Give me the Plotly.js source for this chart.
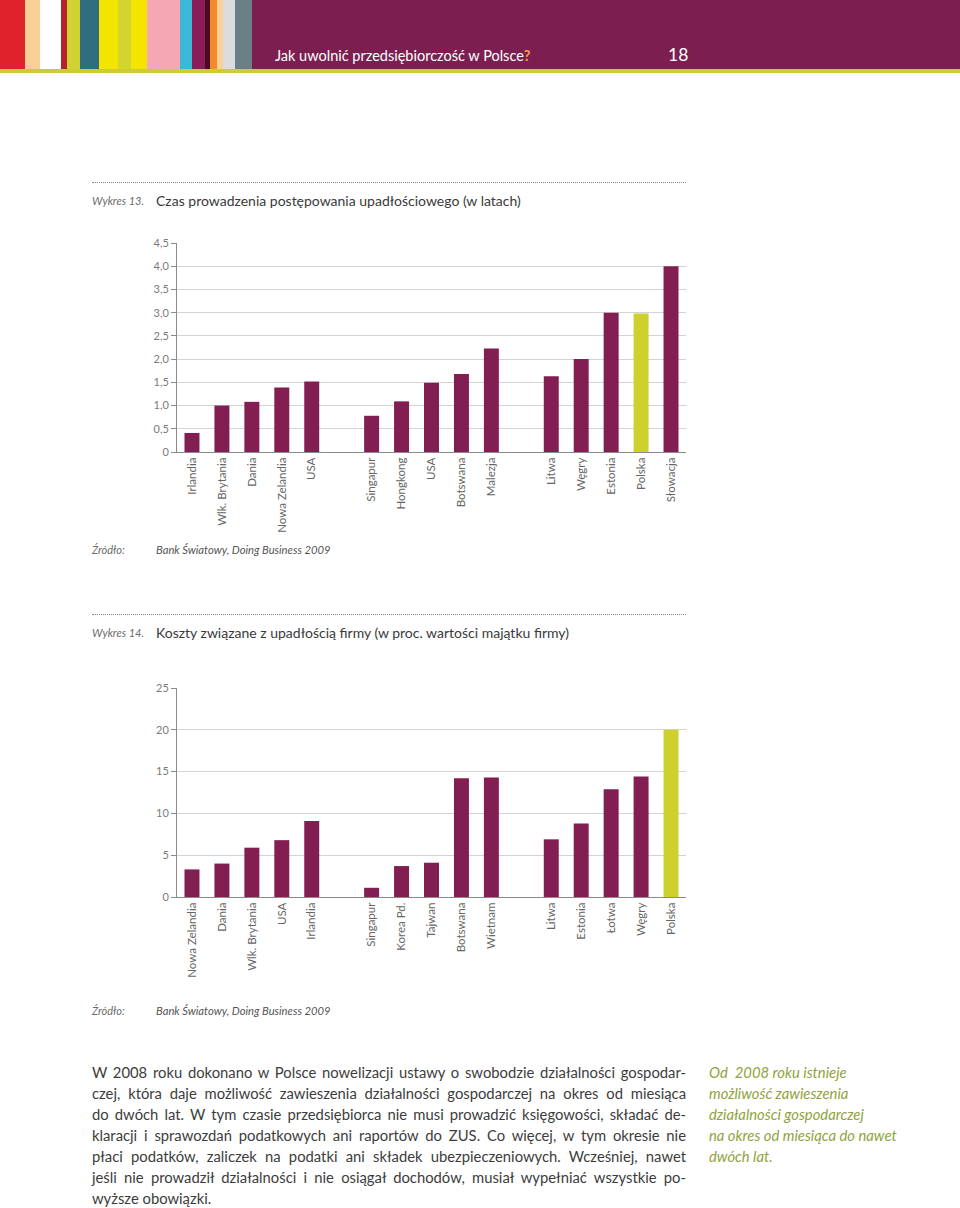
<!DOCTYPE html>
<html><head><meta charset="utf-8">
<script src="https://cdn.plot.ly/plotly-3.0.1.min.js"></script>
<style>
html,body{margin:0;padding:0}
body{width:960px;height:1208px;position:relative;background:#fff;font-family:Lato,'Open Sans',sans-serif;overflow:hidden;color:#3a3a3a}
.a{position:absolute;white-space:nowrap}
.hdr{left:0;top:0;width:960px;height:69px;background:#7c1f50}
.bar{left:0;top:69px;width:960px;height:4px;background:#cbcd33}
.st{top:0;height:69px;position:absolute}
.dot{left:92px;width:594px;height:0;border-top:1px dotted #888}
.wyk{left:92px;font-style:italic;font-size:11px;color:#6b6b6b;line-height:20px}
.ttl{left:156px;font-size:14px;color:#3a3a3a;line-height:20px}
.src{left:156px;font-style:italic;font-size:11.2px;color:#555;line-height:20px}
.par{left:92px;width:594px;font-size:14.8px;line-height:21px;color:#3c3c3c}
.par div{text-align:justify;text-align-last:justify;white-space:nowrap}
.par div.last{text-align-last:left}
.side{left:709px;font-style:italic;font-size:14.8px;line-height:21px;color:#8fa33c}
</style></head><body>
<div class="a hdr"></div>
<div class="st" style="left:0;width:25px;background:#e0232b"></div>
<div class="st" style="left:25px;width:15px;background:#f8cf94"></div>
<div class="st" style="left:40px;width:21px;background:#ffffff"></div>
<div class="st" style="left:61px;width:6px;background:#b5222a"></div>
<div class="st" style="left:67px;width:13px;background:#cfd232"></div>
<div class="st" style="left:80px;width:19px;background:#2f6d7f"></div>
<div class="st" style="left:99px;width:19px;background:#f4e500"></div>
<div class="st" style="left:118px;width:13px;background:#d4d431"></div>
<div class="st" style="left:131px;width:16px;background:#f4e500"></div>
<div class="st" style="left:147px;width:33px;background:#f5a7b3"></div>
<div class="st" style="left:180px;width:12px;background:#3bb8d8"></div>
<div class="st" style="left:192px;width:13px;background:#8a1c57"></div>
<div class="st" style="left:205px;width:5px;background:#4a0a22"></div>
<div class="st" style="left:210px;width:7px;background:#f58a2a"></div>
<div class="st" style="left:217px;width:6px;background:#f8d29a"></div>
<div class="st" style="left:223px;width:12px;background:#dcdcdc"></div>
<div class="st" style="left:235px;width:17px;background:#6b7f86"></div>
<div class="a bar"></div>
<div class="a" style="left:275px;top:45px;font-size:14.5px;line-height:22px;color:#fff">Jak uwolnić przedsiębiorczość w Polsce<span style="color:#f3a23a;font-weight:bold">?</span></div>
<div class="a" style="left:668px;top:43px;font-size:17.5px;line-height:24px;color:#fff">18</div>

<div class="a dot" style="top:182px"></div>
<div class="a wyk" style="top:191px">Wykres 13.</div>
<div class="a ttl" style="top:191px">Czas prowadzenia postępowania upadłościowego (w latach)</div>
<div id="c1" class="a" style="left:0;top:225px;width:960px;height:310px"></div>
<div class="a wyk" style="top:540px">Źródło:</div>
<div class="a src" style="top:540px">Bank Światowy, Doing Business 2009</div>

<div class="a dot" style="top:614px"></div>
<div class="a wyk" style="top:623px">Wykres 14.</div>
<div class="a ttl" style="top:623px">Koszty związane z upadłością firmy (w proc. wartości majątku firmy)</div>
<div id="c2" class="a" style="left:0;top:670px;width:960px;height:310px"></div>
<div class="a wyk" style="top:1001px">Źródło:</div>
<div class="a src" style="top:1001px">Bank Światowy, Doing Business 2009</div>

<div class="a par" style="top:1062px">
<div>W 2008 roku dokonano w Polsce nowelizacji ustawy o swobodzie działalności gospodar-</div>
<div>czej, która daje możliwość zawieszenia działalności gospodarczej na okres od miesiąca</div>
<div>do dwóch lat. W tym czasie przedsiębiorca nie musi prowadzić księgowości, składać de-</div>
<div>klaracji i sprawozdań podatkowych ani raportów do ZUS. Co więcej, w tym okresie nie</div>
<div>płaci podatków, zaliczek na podatki ani składek ubezpieczeniowych. Wcześniej, nawet</div>
<div>jeśli nie prowadził działalności i nie osiągał dochodów, musiał wypełniać wszystkie po-</div>
<div class="last">wyższe obowiązki.</div>
</div>
<div class="a side" style="top:1062px">Od&nbsp; 2008 roku istnieje<br>możliwość zawieszenia<br>działalności gospodarczej<br>na okres od miesiąca do nawet<br>dwóch lat.</div>

<script>
// Wykres 13 – czas postępowania upadłościowego (lata)
const c1Labels = ['Irlandia','Wlk. Brytania','Dania','Nowa Zelandia','USA',
                  'Singapur','Hongkong','USA','Botswana','Malezja',
                  'Litwa','Węgry','Estonia','Polska','Słowacja'];
const c1Values = [0.41,1.0,1.08,1.39,1.52,
                  0.78,1.09,1.49,1.68,2.23,
                  1.63,2.0,3.0,2.98,4.0];
const c1TickVals = [0,0.5,1,1.5,2,2.5,3,3.5,4,4.5];
const c1TickText = ['0','0,5','1,0','1,5','2,0','2,5','3,0','3,5','4,0','4,5'];

// Wykres 14 – koszty upadłości (% wartości majątku)
const c2Labels = ['Nowa Zelandia','Dania','Wlk. Brytania','USA','Irlandia',
                  'Singapur','Korea Pd.','Tajwan','Botswana','Wietnam',
                  'Litwa','Estonia','Łotwa','Węgry','Polska'];
const c2Values = [3.3,4.0,5.9,6.8,9.1,
                  1.1,3.7,4.1,14.2,14.3,
                  6.9,8.8,12.9,14.4,20.0];
const c2TickVals = [0,5,10,15,20,25];
const c2TickText = ['0','5','10','15','20','25'];

const groupSize = 5;
const barColor = '#821e51';
const highlightColor = '#cdd12e';

function drawChart(id, labels, values, tickVals, tickText, yMax){
  const xs = labels.map((_, i) => i + Math.floor(i / groupSize));
  const colors = labels.map(l => l === 'Polska' ? highlightColor : barColor);
  const trace = {type:'bar', x:xs, y:values, marker:{color:colors}, hoverinfo:'none'};
  const layout = {
    width:960, height:310,
    margin:{l:177, r:274, t:18, b:83, pad:0},
    paper_bgcolor:'rgba(0,0,0,0)', plot_bgcolor:'rgba(0,0,0,0)',
    bargap:0.5, showlegend:false,
    font:{family:'Lato, "Open Sans", sans-serif', size:11, color:'#777'},
    xaxis:{range:[-0.5, xs[xs.length-1] + 0.5], tickmode:'array', tickvals:xs, ticktext:labels,
           tickangle:-90, showgrid:false, showline:true, linecolor:'#8a8a8a', linewidth:1,
           ticks:'', zeroline:false, fixedrange:true, tickfont:{size:11.5, color:'#666'}},
    yaxis:{range:[0, yMax], tickmode:'array', tickvals:tickVals, ticktext:tickText,
           showgrid:true, gridcolor:'#d3d3d3', gridwidth:1, showline:true, linecolor:'#8a8a8a',
           ticks:'outside', ticklen:5, tickcolor:'#8a8a8a', zeroline:false, fixedrange:true,
           tickfont:{size:11, color:'#7a7a7a'}}
  };
  Plotly.newPlot(id, [trace], layout, {staticPlot:true, displayModeBar:false});
}
drawChart('c1', c1Labels, c1Values, c1TickVals, c1TickText, 4.5);
drawChart('c2', c2Labels, c2Values, c2TickVals, c2TickText, 25);
</script>
</body></html>
